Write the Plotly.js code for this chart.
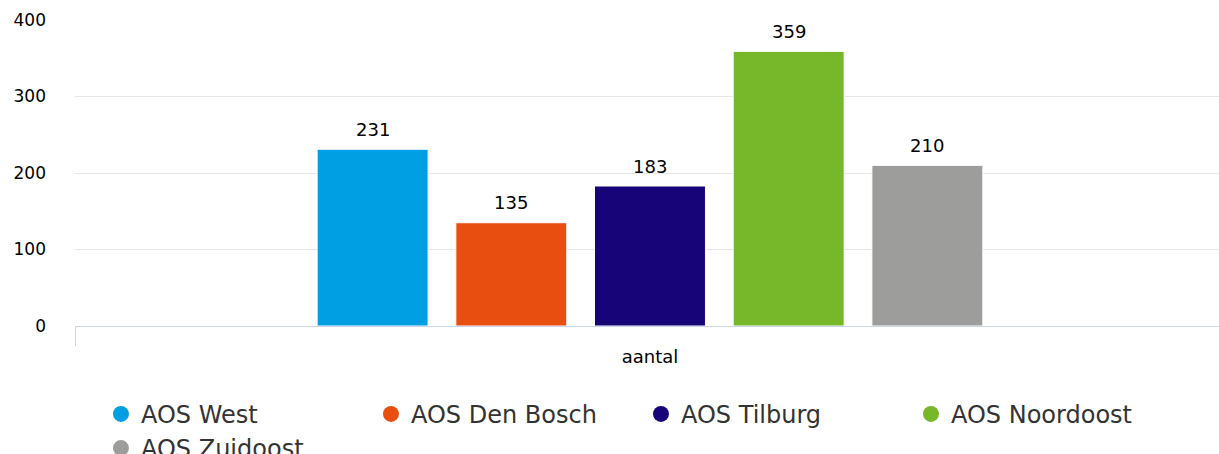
<!DOCTYPE html>
<html>
<head>
<meta charset="utf-8">
<script src="https://cdn.plot.ly/plotly-3.0.1.min.js"></script>
<style>html,body{margin:0;padding:0;background:#fff;}#chart{width:1219px;height:454px;}</style>
</head>
<body>
<div id="chart"></div>
<script>
var categories = ["aantal"];
var seriesNames = ["AOS West", "AOS Den Bosch", "AOS Tilburg", "AOS Noordoost", "AOS Zuidoost"];
var seriesValues = [231, 135, 183, 359, 210];
var seriesColors = ["#009fe3", "#e84e0f", "#170478", "#76b82a", "#9d9d9c"];
var yTicks = [0, 100, 200, 300, 400];

var FONT = "DejaVu Sans, Verdana, sans-serif";
var bargap = 0.397;
var n = seriesNames.length;

var traces = [];
var annotations = [];
for (var i = 0; i < n; i++) {
  traces.push({
    type: "bar",
    x: categories,
    y: [seriesValues[i]],
    name: seriesNames[i],
    marker: {color: seriesColors[i], line: {color: "#ffffff", width: 1}},
    showlegend: false,
    hoverinfo: "skip"
  });
  annotations.push({
    x: (i - (n - 1) / 2) * (1 - bargap) / n,
    y: seriesValues[i],
    xref: "x", yref: "y",
    text: String(seriesValues[i]),
    showarrow: false,
    yshift: 20,
    yanchor: "middle",
    font: {family: FONT, size: 18, color: "#000000"}
  });
}
for (var j = 0; j < n; j++) {
  traces.push({
    type: "scatter",
    mode: "markers",
    x: [null], y: [null],
    name: seriesNames[j],
    marker: {color: seriesColors[j], size: 22, symbol: "circle"},
    showlegend: true,
    hoverinfo: "skip"
  });
}

var layout = {
  width: 1219, height: 454,
  margin: {l: 75, r: 0, t: 20, b: 128, autoexpand: false},
  paper_bgcolor: "#ffffff",
  plot_bgcolor: "#ffffff",
  barmode: "group",
  bargap: bargap,
  bargroupgap: 0.2,
  font: {family: FONT, color: "#333333"},
  xaxis: {
    type: "category",
    range: [-0.5, 0.4948],
    tickson: "boundaries",
    ticks: "outside",
    ticklen: 19,
    tickcolor: "#ccd6eb",
    tickwidth: 1,
    showline: true,
    linecolor: "#ccd6eb",
    linewidth: 1,
    showgrid: false,
    zeroline: false,
    tickfont: {family: FONT, size: 18, color: "#000000"},
    ticklabelstandoff: 14
  },
  yaxis: {
    range: [0, 400],
    tickvals: yTicks,
    ticktext: yTicks.map(String),
    showgrid: true,
    gridcolor: "#e6e6e6",
    gridwidth: 1,
    zeroline: false,
    showline: false,
    ticks: "",
    tickfont: {family: FONT, size: 17, color: "#000000"},
    ticklabelstandoff: 28
  },
  legend: {
    orientation: "h",
    x: 0.0227, xanchor: "left",
    y: -0.215, yanchor: "top",
    entrywidth: 225,
    entrywidthmode: "pixels",
    font: {family: FONT, size: 24, color: "#333333"},
    itemsizing: "trace",
    bgcolor: "rgba(0,0,0,0)"
  },
  annotations: annotations,
  showlegend: true
};

Plotly.newPlot("chart", traces, layout, {staticPlot: true, displayModeBar: false});
</script>
</body>
</html>
